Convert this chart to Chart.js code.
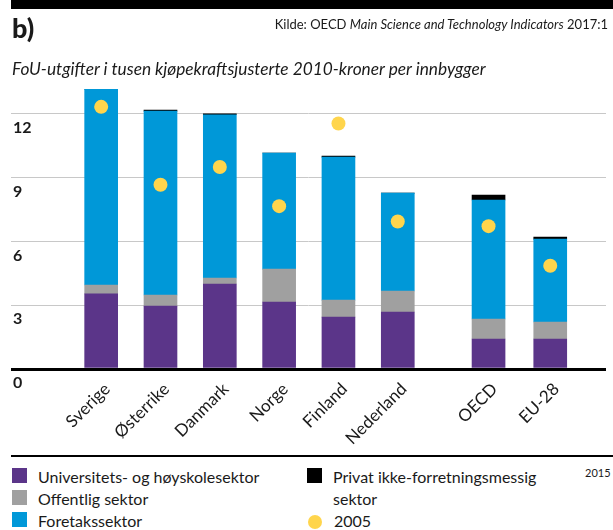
<!DOCTYPE html>
<html lang="no">
<head>
  <meta charset="UTF-8" />
  <title>FoU-utgifter per innbygger</title>
  <style>
    body {
      margin: 0;
      width: 613px;
      height: 530px;
      position: relative;
      background: #fff;
      font-family: Lato, "Liberation Sans", sans-serif;
      color: #1a1a1a;
      overflow: hidden;
    }
    .abs { position: absolute; line-height: 1; white-space: nowrap; }
    #topbar { left: 11px; top: 0; width: 602px; height: 9px; background: #000; }
    #panel { left: 12px; top: 14px; font-size: 27px; font-weight: 900; }
    #source { right: 5px; top: 18px; font-size: 13px; }
    #subtitle { left: 12px; top: 60px; font-size: 17.3px; font-style: italic; }
    #chartBox { position: absolute; left: 0; top: 0; width: 613px; height: 455px; }
    #rule { left: 11px; top: 455px; width: 602px; height: 2px; background: #000; }
    #legend { position: absolute; top: 466px; left: 12px; font-size: 16px; }
    .item { position: absolute; display: flex; align-items: flex-start; line-height: 22px; white-space: nowrap; }
    .sw { width: 15px; height: 15px; margin-top: 2px; flex: none; }
    .dot { width: 14px; height: 14px; border-radius: 50%; margin-top: 5px; flex: none; }
    #year { left: 585px; top: 467px; font-size: 11px; }
  </style>
</head>
<body>
  <div id="chartBox"><canvas id="fouChart"></canvas></div>
  <div class="abs" id="topbar"></div>
  <div class="abs" id="panel">b)</div>
  <div class="abs" id="source">Kilde: OECD <i>Main Science and Technology Indicators</i> 2017:1</div>
  <div class="abs" id="subtitle">FoU-utgifter i tusen kjøpekraftsjusterte 2010-kroner per innbygger</div>
  <div class="abs" id="rule"></div>
  <div id="legend"></div>
  <div class="abs" id="year">2015</div>

  <script src="https://cdn.jsdelivr.net/npm/chart.js"></script>
  <script>
    const countries = ['Sverige', 'Østerrike', 'Danmark', 'Norge', 'Finland', 'Nederland', 'OECD', 'EU-28'];
    const universitet = [3.53, 2.96, 4.00, 3.15, 2.44, 2.68, 1.41, 1.41];
    const offentlig = [0.42, 0.52, 0.28, 1.55, 0.80, 0.99, 0.94, 0.80];
    const foretak = [9.21, 8.65, 7.68, 5.46, 6.73, 4.60, 5.60, 3.90];
    const privat = [0, 0.05, 0.04, 0, 0.05, 0, 0.23, 0.10];
    const y2005 = [12.33, 8.67, 9.50, 7.66, 11.55, 6.94, 6.72, 4.86];
    const yTicks = [0, 3, 6, 9, 12];

    // OECD og EU-28 står litt for seg selv
    const xSlots = [0, 1, 2, 3, 4, 5, 6.53, 7.57];

    const pts = arr => arr.map((v, i) => ({ x: xSlots[i], y: v }));

    function barSet(label, data, color) {
      return {
        type: 'bar',
        label: label,
        data: pts(data),
        backgroundColor: color,
        borderWidth: 0,
        barThickness: 33
      };
    }

    const chart = new Chart(document.getElementById('fouChart'), {
      data: {
        datasets: [
          barSet('Universitets- og høyskolesektor', universitet, '#5b3589'),
          barSet('Offentlig sektor', offentlig, '#a0a0a0'),
          barSet('Foretakssektor', foretak, '#0098d8'),
          barSet('Privat ikke-forretningsmessig sektor', privat, '#000000'),
          {
            type: 'line',
            label: '2005',
            data: pts(y2005),
            showLine: false,
            pointRadius: 7,
            pointBackgroundColor: '#ffd54c',
            pointBorderWidth: 0,
            order: -1
          }
        ]
      },
      options: {
        responsive: true,
        maintainAspectRatio: false,
        animation: false,
        layout: { padding: { top: 82, left: 11, right: 0, bottom: 0 } },
        plugins: { legend: { display: false }, tooltip: { enabled: false } },
        scales: {
          x: {
            type: 'linear',
            stacked: true,
            offset: false,
            min: -1.52,
            max: 8.51,
            afterBuildTicks: s => { s.ticks = xSlots.map(v => ({ value: v })); },
            afterFit: s => { s.height = 86; },
            grid: { display: false },
            border: { display: false },
            ticks: {
              autoSkip: false,
              minRotation: 45,
              maxRotation: 45,
              padding: 2,
              labelOffset: 6,
              color: '#1a1a1a',
              font: { family: 'Lato', size: 17 },
              callback: (v, i) => countries[i]
            }
          },
          y: {
            stacked: true,
            min: 0,
            max: 13.5,
            afterBuildTicks: s => { s.ticks = yTicks.map(v => ({ value: v })); },
            afterFit: s => { s.width = 0; },
            border: { display: false },
            grid: {
              drawTicks: false,
              color: c => (c.tick && c.tick.value === 0) ? '#000' : '#c8c8c8',
              lineWidth: c => (c.tick && c.tick.value === 0) ? 3 : 1
            },
            ticks: {
              mirror: true,
              padding: 2,
              labelOffset: 14,
              color: '#1a1a1a',
              font: { family: 'Lato', size: 16, weight: 'bold' }
            }
          }
        }
      }
    });

    // egen forklaring i to kolonner
    const legend = document.getElementById('legend');
    const spots = [[0, 0], [0, 22], [0, 44], [295, 0], [295, 44]];
    chart.data.datasets.forEach((ds, i) => {
      const item = document.createElement('div');
      item.className = 'item';
      item.style.left = spots[i][0] + 'px';
      item.style.top = spots[i][1] + 'px';
      const sw = document.createElement('span');
      if (ds.type === 'line') {
        sw.className = 'dot';
        sw.style.background = ds.pointBackgroundColor;
        sw.style.marginLeft = '1px';
      } else {
        sw.className = 'sw';
        sw.style.background = ds.backgroundColor;
      }
      const txt = document.createElement('span');
      txt.textContent = ds.label;
      txt.style.marginLeft = (ds.type === 'line' ? 12 : 11) + 'px';
      if (i === 3) {
        txt.style.width = '235px';
        txt.style.whiteSpace = 'normal';
      }
      item.appendChild(sw);
      item.appendChild(txt);
      legend.appendChild(item);
    });
  </script>
</body>
</html>
